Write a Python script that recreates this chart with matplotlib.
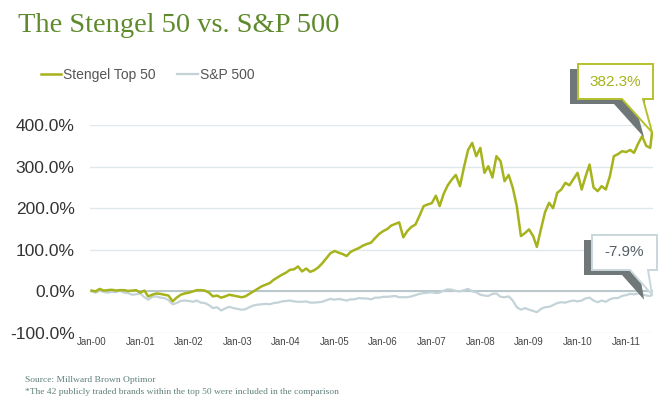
import matplotlib
matplotlib.use("Agg")
import matplotlib.pyplot as plt
import matplotlib.dates as mdates
from matplotlib.patches import Polygon
import pandas as pd

# monthly points, Jan 2000 .. Jul 2011 (last one mid-July)
dates = list(pd.date_range("2000-01-01", "2011-07-01", freq="MS")) + [pd.Timestamp("2011-07-15")]

stengel = [
    2, 0, 6, 2, 3, 4, 2, 3, 3, 1, 2, 3,
    -3, 2, -12, -8, -5, -6, -8, -10, -24, -15, -8, -5,
    -3, 0, 3, 3, 2, -3, -12, -10, -15, -12, -8, -10,
    -12, -14, -12, -6, 0, 6, 12, 16, 20, 28, 34, 40,
    45, 52, 53, 60, 48, 55, 47, 51, 58, 68, 80, 92,
    97, 93, 90, 85, 95, 100, 104, 110, 114, 117, 128, 138,
    145, 150, 158, 162, 166, 130, 145, 155, 161, 182, 205, 209,
    212, 230, 205, 235, 255, 269, 280, 253, 300, 340, 357, 325,
    345, 285, 301, 274, 325, 313, 265, 280, 249, 205, 133, 140,
    149, 133, 107, 150, 190, 213, 200, 237, 245, 261, 255, 270,
    285, 245, 275, 305, 250, 241, 253, 245, 277, 325, 330, 337,
    335, 340, 333, 355, 373, 350, 345, 382.3,
]

sp500 = [
    0, -3, 2, -1, -3, -1, -2, 2, -3, -4, -8, -7,
    -5, -14, -20, -13, -12, -15, -16, -21, -31, -28, -23, -22,
    -23, -25, -22, -27, -28, -33, -40, -38, -46, -41, -37, -40,
    -42, -44, -43, -38, -34, -32, -31, -30, -31, -28, -27, -24,
    -23, -22, -24, -25, -25, -24, -27, -27, -26, -25, -21, -18,
    -20, -18, -20, -22, -19, -19, -16, -17, -17, -19, -15, -15,
    -13, -13, -12, -11, -14, -14, -14, -12, -9, -6, -4, -3,
    -2, -4, -3, 2, 5, 4, 1, 0, 3, 6, 0, -2,
    -8, -10, -11, -6, -5, -13, -14, -12, -22, -38, -44, -40,
    -44, -47, -50, -42, -38, -37, -33, -28, -26, -27, -24, -22,
    -24, -22, -17, -15, -22, -26, -22, -25, -19, -16, -16, -11,
    -9, -6, -7, -5, -7, -10, -11, -7.9,
]

yticks = [-100, 0, 100, 200, 300, 400]
green = "#a6b31c"
grey_line = "#c4d3d8"

fig = plt.figure(figsize=(6.6, 4.0), dpi=100)
ax = fig.add_axes([90 / 660, 1 - 333 / 400, 563 / 660, 208 / 400])

l_sp, = ax.plot(dates, sp500, color=grey_line, lw=1.6, label="S&P 500", zorder=3)
l_st, = ax.plot(dates, stengel, color=green, lw=1.8, label="Stengel Top 50", zorder=4)

ax.set_ylim(-100, 400)
ax.set_xlim(pd.Timestamp("1999-12-20"), pd.Timestamp("2011-07-22"))
ax.set_yticks(yticks)
ax.set_yticklabels([f"{v:.1f}%" for v in yticks], fontsize=12.5, color="#333333",
                   family="Liberation Sans")
ax.xaxis.set_major_locator(mdates.YearLocator())
ax.xaxis.set_major_formatter(mdates.DateFormatter("%b-%y"))
for lab in ax.get_xticklabels():
    lab.set_fontsize(7)
    lab.set_color("#444444")
    lab.set_family("Liberation Sans")
ax.tick_params(length=0)
ax.tick_params(axis="x", pad=3)
ax.tick_params(axis="y", pad=11)
for s in ax.spines.values():
    s.set_visible(False)
ax.grid(axis="y", color="#dfe8eb", lw=1.0)
ax.axhline(0, color="#b8c7cb", lw=1.4, zorder=2)

# legend, one row above the plot
leg = fig.legend(handles=[l_st, l_sp], loc="center left", bbox_to_anchor=(28 / 660, 1 - 75 / 400),
                 ncol=2, frameon=False, handlelength=1.5, handletextpad=0.15, columnspacing=1.5,
                 prop={"family": "Liberation Sans", "size": 10})
for t in leg.get_texts():
    t.set_color("#555555")

# callouts, drawn in pixel space (y from the top)
def px(x, y):
    return (x, 400 - y)

def callout(box, tail, text, edge, tcolor, shift=(-8, 5)):
    x0, y0, x1, y1 = box
    b0, b1, tip = tail
    shape = [(x0, y0), (x1, y0), (x1, y1), (b1, y1), tip, (b0, y1), (x0, y1)]
    sh = [(x + shift[0], y + shift[1]) for x, y in shape]
    fig.patches.append(Polygon([px(*p) for p in sh], closed=True, transform=None,
                               facecolor="#6f7778", edgecolor="none", zorder=5))
    fig.patches.append(Polygon([px(*p) for p in shape], closed=True, transform=None,
                               facecolor="white", edgecolor=edge, lw=1.4, zorder=6))
    fig.text((x0 + x1) / 2 / 660, 1 - (y0 + y1) / 2 / 400, text, ha="center", va="center",
             color=tcolor, fontsize=11, family="Liberation Sans", zorder=7)

# anchor the tips to the last data points
last = mdates.date2num(dates[-1])
sx, sy = ax.transData.transform((last, stengel[-1]))
gx, gy = ax.transData.transform((last, sp500[-1]))
callout((578, 64, 653, 99), (622, 643, (sx, 400 - sy)), f"{stengel[-1]:.1f}%", "#b4c12a", green)
callout((592, 235, 657, 270), (630, 648, (gx, 400 - gy)), f"{sp500[-1]:.1f}%", "#c9d7dc", "#555f63")

fig.text(18 / 660, 1 - 26 / 400, "The Stengel 50 vs. S&P 500", fontsize=20.5, color="#5e8a2c",
         family="Liberation Serif", va="center")
fig.text(25 / 660, 1 - 380 / 400, "Source: Millward Brown Optimor", fontsize=6.8,
         color="#5f807b", family="Liberation Serif", va="center")
fig.text(25 / 660, 1 - 392 / 400,
         "*The 42 publicly traded brands within the top 50 were included in the comparison",
         fontsize=6.8, color="#5f807b", family="Liberation Serif", va="center")

fig.savefig("out.png", dpi=100)
